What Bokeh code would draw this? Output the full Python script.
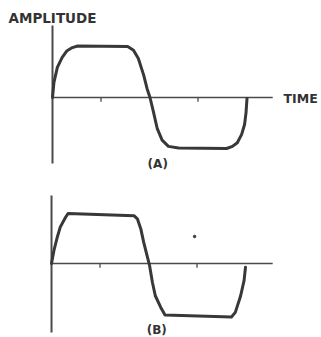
from bokeh.plotting import figure
from bokeh.layouts import column
from bokeh.embed import file_html
from bokeh.resources import INLINE
from bokeh.core.properties import value

# ---- data (time in quarter periods, amplitude relative to peak) ----
time_a = [0.0, 0.03, 0.10, 0.20, 0.30, 0.41, 0.52, 1.55, 1.67, 1.77, 1.88, 1.95,
          2.01, 2.08, 2.16, 2.26, 2.39, 2.60, 3.59, 3.71, 3.81, 3.90, 3.96, 3.99, 4.01]
amp_a = [0.0, 0.29, 0.58, 0.77, 0.90, 0.96, 0.99, 0.98, 0.91, 0.75, 0.43, 0.17,
         0.0, -0.27, -0.60, -0.82, -0.94, -0.97, -0.98, -0.94, -0.87, -0.71, -0.52, -0.29, -0.02]

time_b = [0.0, 0.05, 0.12, 0.18, 0.29, 0.34, 1.70, 1.77, 1.84, 1.90, 1.97,
          2.02, 2.08, 2.14, 2.25, 2.34, 3.71, 3.79, 3.90, 3.97, 4.00]
amp_b = [0.0, 0.25, 0.51, 0.70, 0.89, 0.96, 0.92, 0.86, 0.67, 0.41, 0.15,
         -0.03, -0.36, -0.62, -0.84, -0.99, -1.03, -0.94, -0.62, -0.33, -0.07]

tick_times = [1, 3]
y_title = "AMPLITUDE"
x_title = "TIME"
panel_labels = ["(A)", "(B)"]
speck_t = [2.95]
speck_a = [0.52]

WAVE = "#383838"
AXIS = "#4a4a4a"
FONT = value("DejaVu Sans")


def make_panel(height, x_range, y_range, t, a, v_ext, h_end, label, label_y,
               show_titles):
    p = figure(width=321, height=height, x_range=x_range, y_range=y_range,
               output_backend="svg", toolbar_location=None, min_border=0,
               x_axis_type=None, y_axis_type=None, outline_line_color=None)
    p.xgrid.visible = False
    p.ygrid.visible = False
    # axes
    p.segment(x0=[0], y0=[v_ext[0]], x1=[0], y1=[v_ext[1]], line_width=2,
              line_color=AXIS)
    p.segment(x0=[0], y0=[0], x1=[h_end], y1=[0], line_width=1.6,
              line_color=AXIS)
    p.segment(x0=tick_times, y0=[0] * len(tick_times), x1=tick_times,
              y1=[-0.08] * len(tick_times), line_width=1.3, line_color=AXIS)
    # waveform
    p.line(t, a, line_width=3, line_color=WAVE, line_join="round",
           line_cap="round")
    p.text(x=[2.17], y=[label_y], text=[label], text_font=FONT,
           text_font_style="bold", text_font_size="12px", text_align="center",
           text_baseline="alphabetic", text_color="#333333")
    if show_titles:
        p.text(x=[0], y=[1.519], text=[y_title], text_font=FONT,
               text_font_style="bold", text_font_size="13.5px",
               text_align="center", text_baseline="alphabetic",
               text_color="#333333")
        p.text(x=[4.763], y=[-0.019], text=[x_title], text_font=FONT,
               text_font_style="bold", text_font_size="12.5px",
               text_align="left", text_baseline="alphabetic",
               text_color="#333333")
    return p


pa = make_panel(172, (-1.072, 5.546), (-1.442, 1.865), time_a, amp_a,
                (-1.269, 1.385), 4.54, panel_labels[0], -1.288, True)
pb = make_panel(165, (-1.052, 5.567), (-1.423, 1.75), time_b, amp_b,
                (-1.327, 1.308), 4.56, panel_labels[1], -1.279, False)
pb.scatter(speck_t, speck_a, size=2.5, color=WAVE)

layout = column(pa, pb, spacing=0)
open("out.html", "w").write(file_html(layout, INLINE))
